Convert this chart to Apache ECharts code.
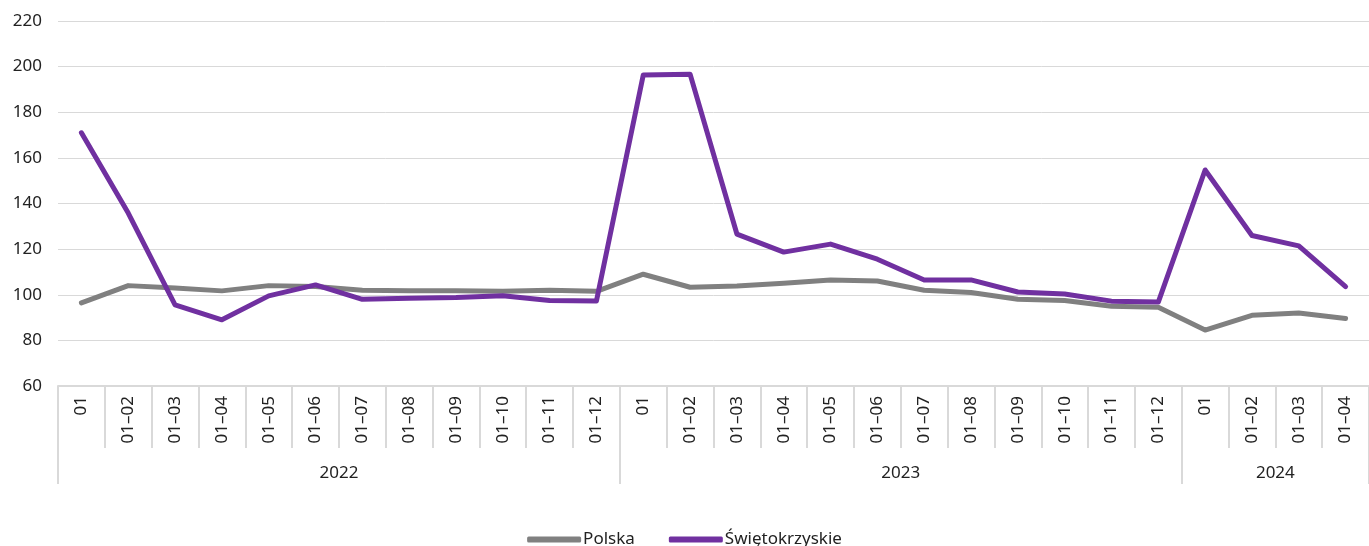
<!DOCTYPE html>
<html lang="pl">
<head>
    <meta charset="UTF-8">
    <title>Polska / Świętokrzyskie</title>
    <script src="https://cdn.jsdelivr.net/npm/echarts@6/dist/echarts.min.js"></script>
    <style type="text/css">
        html, body{
            margin: 0;
            padding: 0;
            background: #fff;
        }
        #main{
            width: 1369px;
            height: 546px;
        }
    </style>
</head>
<body>
    <div id="main"></div>
    <script>
        // kategorie (miesiące narastająco) i lata
        var months = ['01', '01–02', '01–03', '01–04', '01–05', '01–06', '01–07', '01–08', '01–09', '01–10', '01–11', '01–12',
                      '01', '01–02', '01–03', '01–04', '01–05', '01–06', '01–07', '01–08', '01–09', '01–10', '01–11', '01–12',
                      '01', '01–02', '01–03', '01–04'];
        var years = ['2022', '2023', '2024'];
        var yearCounts = [12, 12, 4];

        var polska = [96.4, 104, 103, 101.7, 104, 103.6, 102, 101.7, 101.8, 101.5, 102, 101.5,
                      109, 103.3, 103.8, 105, 106.5, 106, 102, 101, 98, 97.5, 95, 94.5,
                      84.5, 91, 92, 89.6];
        var swietokrzyskie = [171, 135.8, 95.6, 89, 99.5, 104.3, 98, 98.5, 98.8, 99.6, 97.5, 97.3,
                              196.3, 196.7, 126.6, 118.7, 122.2, 115.6, 106.5, 106.5, 101.2, 100.3, 97.2, 96.8,
                              154.7, 126, 121.4, 103.6];

        // granice i środki grup lat na osi wartości 0..28
        var yearBounds = [0];
        var yearCenters = [];
        var acc = 0;
        for (var i = 0; i < yearCounts.length; i++) {
            yearCenters.push(acc + yearCounts[i] / 2);
            acc += yearCounts[i];
            yearBounds.push(acc);
        }

        var myChart = echarts.init(document.getElementById('main'));
        var font = '"Noto Sans", sans-serif';
        var option = {
            backgroundColor: '#fff',
            animation: false,
            textStyle: { fontFamily: font },
            legend: {
                top: 526,
                left: 'center',
                itemWidth: 54,
                itemHeight: 6,
                itemGap: 34,
                icon: 'roundRect',
                textStyle: { color: '#222', fontSize: 17, padding: [0, 0, 0, -3] },
                data: ['Polska', 'Świętokrzyskie']
            },
            grid: {
                left: 58,
                right: 0,
                top: 21,
                bottom: 160
            },
            xAxis: [
                {
                    type: 'category',
                    data: months,
                    boundaryGap: true,
                    axisLine: { lineStyle: { color: '#d9d9d9', width: 2 } },
                    axisTick: { show: true, length: 62, interval: 0, lineStyle: { color: '#d9d9d9', width: 2 } },
                    axisLabel: { rotate: 90, interval: 0, margin: 10, color: '#222', fontSize: 17 }
                },
                {
                    type: 'value',
                    position: 'bottom',
                    offset: 62,
                    min: 0,
                    max: 28,
                    interval: 2,
                    axisLine: { show: false },
                    splitLine: { show: false },
                    axisTick: { show: true, length: 36, customValues: yearBounds, lineStyle: { color: '#d9d9d9', width: 2 } },
                    axisLabel: {
                        customValues: yearCenters,
                        margin: 17,
                        color: '#222',
                        fontSize: 17,
                        formatter: function (v) {
                            var idx = yearCenters.indexOf(v);
                            return idx >= 0 ? years[idx] : '';
                        }
                    }
                }
            ],
            yAxis: {
                type: 'value',
                min: 60,
                max: 220,
                interval: 20,
                axisLine: { show: false },
                axisTick: { show: false },
                axisLabel: { color: '#222', fontSize: 17, margin: 16 },
                splitLine: { lineStyle: { color: '#d9d9d9', width: 1 } }
            },
            series: [
                {
                    name: 'Polska',
                    type: 'line',
                    data: polska,
                    showSymbol: false,
                    color: '#808080',
                    lineStyle: { color: '#808080', width: 5, cap: 'round', join: 'round' }
                },
                {
                    name: 'Świętokrzyskie',
                    type: 'line',
                    data: swietokrzyskie,
                    showSymbol: false,
                    color: '#7030a0',
                    lineStyle: { color: '#7030a0', width: 5, cap: 'round', join: 'round' }
                }
            ]
        };
        myChart.setOption(option);
    </script>
</body>
</html>
